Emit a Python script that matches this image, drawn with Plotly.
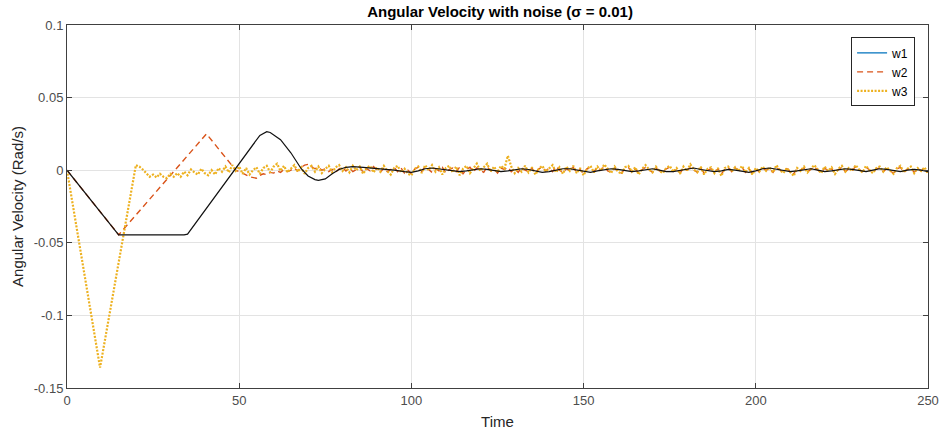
import plotly.graph_objects as go

# ---------------- data (values in mrad/s, converted to rad/s) ----------------
# w1 : breakpoints (time, value)
w1_t = [0, 15, 34, 35, 56, 58, 59, 62, 65, 68, 70, 72, 73, 75, 77, 79, 81, 83, 86, 89,
        92, 95, 98, 100, 102, 104, 106, 108, 110, 112, 114, 116, 118, 120, 122, 124, 126,
        128, 130, 132, 134, 136, 138, 140, 142, 144, 146, 148, 150, 152, 154, 156, 158,
        160, 162, 164, 166, 168, 170, 172, 174, 176, 178, 180, 182, 184, 186, 188, 190,
        192, 194, 196, 198, 200, 202, 204, 206, 208, 210, 212, 214, 216, 218, 220, 222,
        224, 226, 228, 230, 232, 234, 236, 238, 240, 242, 244, 246, 248, 250]
w1_m = [0, -44.5, -44.5, -44, 24, 26.5, 26, 21, 12, 1, -4, -6.5, -7, -6, -2.5, 0.5, 2, 2.5, 2, 1.5,
        1, 0, -1, -1.5, -0.5, 1, 1.5, 1, 0, -0.5, -1, -0.5, 0.5, 1, 0.5, -0.5, -1,
        -0.5, 0.5, 1, 0.5, -0.5, -1.5, -1, 0, 1, 1, 0, -1, -1.5, -0.5, 0.5, 1,
        0.5, -0.5, -1, -0.5, 0.5, 1, 0, -1, -1, 0, 1, 1.5, 0.5, -0.5, -1, -0.5,
        0.5, 0, -1, -1.5, -0.5, 1, 1.5, 0.5, -0.5, -1, -0.5, 0.5, 1, 0, -1, -0.5,
        0.5, 1, 0.5, -0.5, -1, 0, 1, 0.5, -0.5, -1, 0, 0.5, 0, -1]

# w2 : ramp part, then noisy settling sampled each time unit from t = 56
w2_head_t = [0, 15, 40.5, 49, 51, 53, 55]
w2_head_m = [0, -44.5, 25, 0, -2, -4.5, -5.5]
w2_noise_m = [
    -3.5, -2.5, -3, -1.5, -2, -0.5, -1.5, 0.5, -1, 0, 1.5, -0.5, 2, 3.5, 4, 2.5, 1, 2, 0, 1,
    -1, 0.5, -1.5, 1, 2, -0.5, 1.5, -1, 0.5, 2, -1.5, 1, -0.5, 2.5, 0, -1.5, 1.5, -1, 0.5, 2,
    -1, 1.5, -2, 0, -2.5, 1, 2, -1, 2.5, 0.5, -1.5, 1, -0.5, 2, -2, 0.5, 1.5, -1, 2, -2.5,
    0.5, 2, -1, 1.5, 0, -1.5, 2.5, -0.5, 1, -2, 1.5, 0.5, 2, -1, 1, -1.5, 2, 0, -1, 1.5,
    -2, 1, 2, -0.5, 1.5, -1, 2.5, 0, -1.5, 1, -0.5, 2, -1.5, 0.5, -2.5, 1, 1.5, -1, 2, 0,
    2.5, -0.5, -1.5, 1.5, -1, -2, 1, 2, -1.5, 1, -2, 0.5, 2, 0, -1.5, 1.5, -0.5, -1, 1, 2,
    -1, 0.5, -2, 1.5, 0, 2, 0.5, -1.5, 1.5, -2, 0, 1, -1.5, 1, -2.5, 0.5, 2, -1, 1.5, 0,
    2, -1.5, 1, -2, 0.5, -1, 1.5, 0, 1, -1.5, 2, 0, -1.5, 1, -0.5, -2.5, 1, 0, 1.5, -1,
    0.5, 2.5, 0, -1.5, 1.5, -0.5, 1, -2, 0.5, 2, -1, 1, 0, 2.5, 0.5, -1, 2, 0, -1.5, 1,
    1.5, -1, 1, -0.5, -2, 1, 2, -1.5, 0.5, 1.5, -1.5, 1, -0.5, 1, -1.5]
w2_noise_t = list(range(56, 56 + len(w2_noise_m)))

# w3 : fast dip, then noise sampled each time unit from t = 20
w3_head_t = [0, 9.6]
w3_head_m = [0, -136]
w3_noise_m = [
    3.5, 2.5, 0.5, -2, -4.5, -3, -5, -2.5, -4.5, -5.5, -2.5, -4.5, -2, -4.5, -1, -3.5, 0.5, -1.5, -3, 1,
    -2, -3.5, 0, -3, 1.5, -1, 2.5, -1.5, 3.5, -0.5, 2.5, -2.5, 1.5, -3, 0, 2, -2.5, 1.5, 3, -1.5,
    2.5, 4.5, -0.5, 3, -1.5, 1, 3.5, -1, 2, -2.5, 1.5, 3, -1, 2.5, -2, 1, 3, -1.5, 2, 3.5,
    -0.5, 2, -1.5, 3, 0, 2.5, -2.5, 1.5, 3, -1.5, 2, -1, 3, -0.5, -3, 1.5, 3, -1.5, 1, -2.5,
    -3.5, 1, 2.5, -2, 3.5, 0, 3.5, -1, 2, -3, 1.5, 3, -1.5, 2.5, -3.5, 1, 3, -2, 1.5, 4.5,
    -0.5, 2, 4.5, -1, 2.5, -1.5, 3, 1, 10, 2.5, -2, 1.5, -1, 3, -1.5, 2, -3, 1, 3, -1,
    1.5, 3.5, -1.5, 2, -2.5, 2.5, -0.5, 3, -2, 1.5, -3.5, 1, 3, -1.5, 2.5, -0.5, 4, 1, -2, 2.5,
    -1, -2.5, 2, 3, -1, 2, -3, 1, 3.5, 0.5, -1.5, 2.5, -0.5, -2, 1.5, 3, -1, 1.5, -2.5, 2.5,
    -0.5, 4, 0.5, -1.5, 2.5, -3, 1, 2, -2, 1.5, -4, 1.5, 2.5, -1, 2, -0.5, 3, -1.5, 1.5, -3,
    1.5, -1, 2.5, -0.5, 2, -1.5, 3.5, 0, -2, 1.5, -1, -4, 1.5, -0.5, 2.5, -1.5, 1, 3.5, 0.5, -2,
    2.5, -0.5, 2, -2.5, 1, 3, -1, 1.5, -0.5, 3.5, 0.5, -1.5, 3, 0, -2, 1.5, 2.5, -1, 2, -0.5,
    -2.5, 1.5, 3, -1.5, 1, 2.5, -2, 1.5, -0.5, 2, -2.5]
w3_noise_t = list(range(20, 20 + len(w3_noise_m)))

x_ticks = [0, 50, 100, 150, 200, 250]
y_ticks = [-0.15, -0.1, -0.05, 0, 0.05, 0.1]
y_tick_text = ["-0.15", "-0.1", "-0.05", "0", "0.05", "0.1"]

# ---------------- conversion ----------------
w1_y = [v / 1000 for v in w1_m]
w2_t = w2_head_t + w2_noise_t
w2_y = [v / 1000 for v in (w2_head_m + w2_noise_m)]
w3_t = w3_head_t + w3_noise_t
w3_y = [v / 1000 for v in (w3_head_m + w3_noise_m)]

BLUE = "#0072BD"
ORANGE = "#D95319"
YELLOW = "#EDB120"
FONT = "Liberation Sans, Arial, sans-serif"
AX = "#404040"

fig = go.Figure()
# legend-only entry for w1 (legend sample shown in blue)
fig.add_trace(go.Scatter(x=[None], y=[None], mode="lines", name="w1",
                         line=dict(color=BLUE, width=1.2)))
fig.add_trace(go.Scatter(x=w2_t, y=w2_y, mode="lines", name="w2",
                         line=dict(color=ORANGE, width=1.4, dash="6px,4px")))
fig.add_trace(go.Scatter(x=w3_t, y=w3_y, mode="lines", name="w3",
                         line=dict(color=YELLOW, width=2.2, dash="2px,1.5px")))
fig.add_trace(go.Scatter(x=w1_t, y=w1_y, mode="lines", name="w1", showlegend=False,
                         line=dict(color="#111111", width=1.2)))

fig.update_layout(
    width=939, height=433,
    margin=dict(l=67, r=11, t=25, b=45),
    paper_bgcolor="white", plot_bgcolor="white",
    font=dict(family=FONT, size=13, color="#262626"),
    title=dict(text="<b>Angular Velocity with noise (σ = 0.01)</b>",
               x=0.5325, xanchor="center", y=0.984, yanchor="top",
               font=dict(family=FONT, size=15, color="#000000")),
    showlegend=True,
    legend=dict(x=0.985, y=0.966, xanchor="right", yanchor="top",
                bgcolor="white", bordercolor="#262626", borderwidth=1,
                font=dict(family=FONT, size=12, color="#000000"),
                tracegroupgap=0, itemwidth=30),
)
fig.update_xaxes(
    range=[0, 250], tickvals=x_ticks, ticktext=[str(v) for v in x_ticks],
    automargin=False,
    showgrid=True, gridcolor="#e3e3e3", gridwidth=1, zeroline=False,
    showline=True, linecolor=AX, linewidth=1, mirror="ticks",
    ticks="inside", ticklen=5, tickcolor=AX,
    tickfont=dict(family=FONT, size=13, color="#4d4d4d"),
    title=dict(text="Time", font=dict(family=FONT, size=15, color="#262626"), standoff=9),
)
fig.update_yaxes(
    range=[-0.15, 0.1], tickvals=y_ticks, ticktext=y_tick_text,
    automargin=False,
    showgrid=True, gridcolor="#e3e3e3", gridwidth=1, zeroline=False,
    showline=True, linecolor=AX, linewidth=1, mirror="ticks",
    ticks="inside", ticklen=5, tickcolor=AX,
    tickfont=dict(family=FONT, size=13, color="#4d4d4d"),
    title=dict(text="Angular Velocity (Rad/s)", font=dict(family=FONT, size=15, color="#262626"), standoff=6),
)

fig.write_html("out.html",
               config={"displayModeBar": False},
               post_script="document.body.style.margin='0';document.body.style.overflow='hidden';")
